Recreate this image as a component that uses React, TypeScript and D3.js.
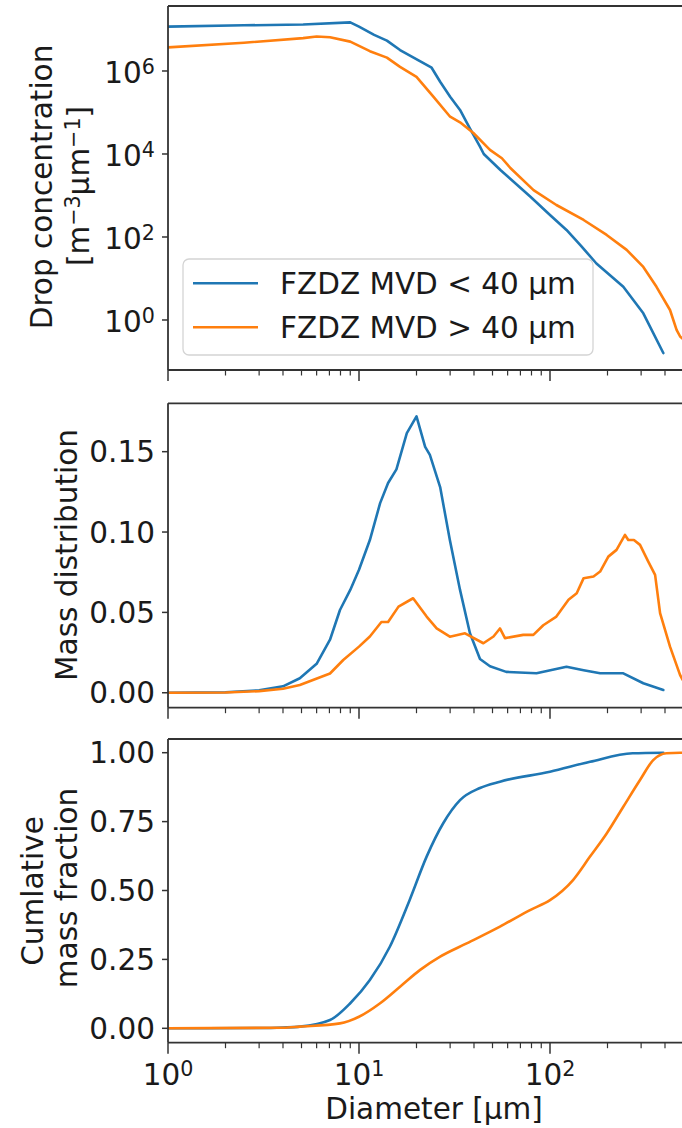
import React, { useRef, useEffect } from 'react';
import * as d3 from 'd3';

const WIDTH = 682;
const HEIGHT = 1128;
const FONT = 'DejaVu Sans, Verdana, sans-serif';
const FS = 29.5;

const SERIES = ['FZDZ MVD < 40 μm', 'FZDZ MVD > 40 μm'];
const COLORS = ['#1f77b4', '#ff7f0e'];

// Drop concentration [m^-3 um^-1]
const concDiamSmall = [1, 2.5, 5.1, 9, 10, 12, 14, 16.4, 20.5, 24, 26.6, 30, 33.8, 38, 43, 45, 55, 79, 100, 122, 145, 175, 242, 308, 392];
const concSmall = [1.17e7, 1.26e7, 1.32e7, 1.48e7, 1.17e7, 7.4e6, 5.4e6, 3.2e6, 1.8e6, 1.2e6, 5.5e5, 2.4e5, 1.15e5, 4.2e4, 1.5e4, 1.0e4, 4.1e3, 930, 340, 148, 62, 23, 6.3, 1.45, 0.16];
const concDiamLarge = [1, 2.5, 5.1, 6, 7.05, 9, 11.4, 14, 16.4, 20, 24.5, 30, 33.8, 39.7, 48.5, 56, 62, 82, 108, 150, 198, 252, 308, 361, 425, 460, 480, 495];
const concLarge = [3.7e6, 4.8e6, 6.2e6, 6.8e6, 6.5e6, 5.1e6, 3.0e6, 2.1e6, 1.26e6, 7.2e5, 2.4e5, 7.9e4, 5.8e4, 3.2e4, 1.26e4, 7.9e3, 4.6e3, 1.35e3, 590, 257, 112, 49, 19, 6.3, 1.74, 0.58, 0.4, 0.355];

// Mass distribution
const massDiamSmall = [1, 2, 3, 4, 4.9, 6, 7.05, 7.95, 9, 10, 11.4, 12.9, 14.2, 15.7, 17.8, 20, 22.2, 23.5, 26.6, 29.9, 33.8, 38.1, 43, 48.5, 59, 85, 122, 150, 183, 242, 308, 392];
const massSmall = [0, 0.0003, 0.0015, 0.004, 0.009, 0.018, 0.033, 0.0515, 0.064, 0.0765, 0.095, 0.118, 0.1305, 0.139, 0.1616, 0.172, 0.153, 0.148, 0.128, 0.095, 0.064, 0.037, 0.021, 0.0165, 0.013, 0.0121, 0.0162, 0.014, 0.0121, 0.0121, 0.0059, 0.0017];
const massDiamLarge = [1, 2, 3, 4, 4.9, 7.05, 8.27, 10, 11.4, 13.1, 14.2, 16.1, 19.2, 22.6, 25.5, 29.9, 35.9, 44.8, 50.6, 54.7, 58.1, 72.4, 81.8, 92.2, 108, 125, 138, 150, 169, 183, 202, 223, 247, 257, 275, 296, 327, 355, 377, 425, 480, 495];
const massLarge = [0, 0.0002, 0.001, 0.0025, 0.0048, 0.012, 0.0204, 0.0287, 0.035, 0.044, 0.044, 0.0536, 0.0588, 0.0474, 0.0401, 0.0349, 0.037, 0.0308, 0.035, 0.04, 0.034, 0.036, 0.036, 0.042, 0.0474, 0.0578, 0.0619, 0.0713, 0.0723, 0.0754, 0.0847, 0.0889, 0.0982, 0.095, 0.095, 0.092, 0.0816, 0.0733, 0.0495, 0.0287, 0.011, 0.008];

// Cumulative mass fraction
const cumDiamSmall = [1, 3, 4, 4.9, 7.05, 9, 11.4, 14.5, 18.4, 22.6, 27.6, 33.8, 43, 54.7, 100, 162, 271, 392];
const cumSmall = [0, 0.001, 0.003, 0.006, 0.03, 0.091, 0.175, 0.296, 0.465, 0.623, 0.744, 0.828, 0.872, 0.895, 0.931, 0.967, 0.998, 1.0];
const cumDiamLarge = [1, 4, 4.9, 7.95, 10, 12.9, 16.4, 20.9, 26.6, 36.6, 54.7, 78.6, 100, 132, 162, 198, 242, 296, 347, 406, 480, 495];
const cumLarge = [0, 0.002, 0.006, 0.018, 0.042, 0.091, 0.151, 0.212, 0.26, 0.308, 0.369, 0.429, 0.465, 0.538, 0.623, 0.707, 0.804, 0.901, 0.973, 0.998, 1.0, 1.0];

const concTicks = [1, 1e2, 1e4, 1e6];
const massTicks = [0, 0.05, 0.1, 0.15];
const cumTicks = [0, 0.25, 0.5, 0.75, 1.0];
const xMajorTicks = [1, 10, 100];

const App: React.FC = () => {
    const svgRef = useRef<SVGSVGElement | null>(null);

    useEffect(() => {
        if (!svgRef.current) return;
        const svg = d3.select(svgRef.current);
        svg.selectAll('*').remove();

        const left = 168;
        const pxPerDecade = 191;
        const xScale = d3.scaleLog()
            .domain([1, 600])
            .range([left, left + pxPerDecade * Math.log10(600)]);
        const right = xScale.range()[1];

        const panels = [
            {
                top: 6, bottom: 370,
                y: d3.scaleLog().domain([Math.pow(10, -1.205), Math.pow(10, 7.566)]).range([370, 6]),
                ticks: concTicks, logLabels: true, curve: d3.curveLinear,
                series: [[concDiamSmall, concSmall], [concDiamLarge, concLarge]],
            },
            {
                top: 403.3, bottom: 707.7,
                y: d3.scaleLinear().domain([-0.0093, 0.1801]).range([707.7, 403.3]),
                ticks: massTicks, logLabels: false, curve: d3.curveLinear,
                series: [[massDiamSmall, massSmall], [massDiamLarge, massLarge]],
            },
            {
                top: 739, bottom: 1042.7,
                y: d3.scaleLinear().domain([-0.0522, 1.0497]).range([1042.7, 739]),
                ticks: cumTicks, logLabels: false, curve: d3.curveMonotoneX,
                series: [[cumDiamSmall, cumSmall], [cumDiamLarge, cumLarge]],
            },
        ];

        const defs = svg.append('defs');

        panels.forEach((p, pi) => {
            const g = svg.append('g');
            const clipId = `clip-${pi}`;
            defs.append('clipPath').attr('id', clipId)
                .append('rect')
                .attr('x', left).attr('y', p.top)
                .attr('width', right - left).attr('height', p.bottom - p.top);

            // lines
            p.series.forEach(([xs, ys], si) => {
                const pts = xs.map((d, i) => [d, ys[i]] as [number, number]);
                const line = d3.line<[number, number]>()
                    .x(d => xScale(d[0]))
                    .y(d => (p.y as any)(d[1]))
                    .curve(p.curve);
                g.append('path')
                    .attr('d', line(pts) || '')
                    .attr('fill', 'none')
                    .attr('stroke', COLORS[si])
                    .attr('stroke-width', 2.6)
                    .attr('stroke-linejoin', 'round')
                    .attr('stroke-linecap', 'round')
                    .attr('clip-path', `url(#${clipId})`);
            });

            // spines (right spine is off the canvas)
            const spine = { stroke: '#333', width: 1.8 };
            g.append('line').attr('x1', left).attr('x2', left).attr('y1', p.top).attr('y2', p.bottom)
                .attr('stroke', spine.stroke).attr('stroke-width', spine.width);
            g.append('line').attr('x1', left).attr('x2', right).attr('y1', p.top).attr('y2', p.top)
                .attr('stroke', spine.stroke).attr('stroke-width', spine.width);
            g.append('line').attr('x1', left).attr('x2', right).attr('y1', p.bottom).attr('y2', p.bottom)
                .attr('stroke', spine.stroke).attr('stroke-width', spine.width);
            g.append('line').attr('x1', right).attr('x2', right).attr('y1', p.top).attr('y2', p.bottom)
                .attr('stroke', spine.stroke).attr('stroke-width', spine.width);

            // y ticks
            p.ticks.forEach(t => {
                const ty = (p.y as any)(t);
                g.append('line').attr('x1', left - 6).attr('x2', left).attr('y1', ty).attr('y2', ty)
                    .attr('stroke', '#333').attr('stroke-width', 1.5);
                if (p.logLabels) {
                    const txt = g.append('text')
                        .attr('x', left - 13).attr('y', ty + 12)
                        .attr('text-anchor', 'end')
                        .attr('font-family', FONT).attr('font-size', FS).attr('fill', '#1a1a1a');
                    txt.append('tspan').text('10');
                    txt.append('tspan').attr('dy', -9).attr('font-size', FS * 0.7).text(String(Math.round(Math.log10(t))));
                } else {
                    g.append('text')
                        .attr('x', left - 13).attr('y', ty + 10.5)
                        .attr('text-anchor', 'end')
                        .attr('font-family', FONT).attr('font-size', FS).attr('fill', '#1a1a1a')
                        .text(d3.format('.2f')(t));
                }
            });

            // x ticks
            xScale.ticks().forEach(t => {
                const major = xMajorTicks.includes(t);
                const tx = xScale(t);
                g.append('line').attr('x1', tx).attr('x2', tx)
                    .attr('y1', p.bottom).attr('y2', p.bottom + (major ? 11 : 5.5))
                    .attr('stroke', '#333').attr('stroke-width', major ? 1.5 : 1.2);
            });

            if (pi === 2) {
                xMajorTicks.forEach(t => {
                    const txt = g.append('text')
                        .attr('x', xScale(t)).attr('y', 1085)
                        .attr('text-anchor', 'middle')
                        .attr('font-family', FONT).attr('font-size', FS).attr('fill', '#1a1a1a');
                    txt.append('tspan').text('10');
                    txt.append('tspan').attr('dy', -9).attr('font-size', FS * 0.7).text(String(Math.round(Math.log10(t))));
                });
            }
        });

        // y labels
        const ylabel = (x: number, cy: number) => svg.append('text')
            .attr('transform', `translate(${x},${cy}) rotate(-90)`)
            .attr('text-anchor', 'middle')
            .attr('font-family', FONT).attr('font-size', FS).attr('fill', '#1a1a1a');

        ylabel(52, 187).text('Drop concentration');
        const unit = ylabel(89, 186);
        unit.append('tspan').text('[m');
        unit.append('tspan').attr('dy', -9).attr('font-size', FS * 0.7).text('−3');
        unit.append('tspan').attr('dy', 9).text('μm');
        unit.append('tspan').attr('dy', -9).attr('font-size', FS * 0.7).text('−1');
        unit.append('tspan').attr('dy', 9).text(']');

        ylabel(77, 555).text('Mass distribution');
        ylabel(43, 891).text('Cumlative');
        ylabel(77, 888).text('mass fraction');

        // x label
        svg.append('text')
            .attr('x', 434).attr('y', 1119)
            .attr('text-anchor', 'middle')
            .attr('font-family', FONT).attr('font-size', FS).attr('fill', '#1a1a1a')
            .text('Diameter [μm]');

        // legend
        const legend = svg.append('g');
        legend.append('rect')
            .attr('x', 183).attr('y', 259).attr('width', 410).attr('height', 96)
            .attr('rx', 6).attr('ry', 6)
            .attr('fill', 'white').attr('fill-opacity', 0.8)
            .attr('stroke', '#d4d4d4').attr('stroke-width', 1.3);
        SERIES.forEach((name, i) => {
            const ly = 283.3 + i * 44;
            legend.append('line')
                .attr('x1', 193).attr('x2', 258).attr('y1', ly).attr('y2', ly)
                .attr('stroke', COLORS[i]).attr('stroke-width', 2.6);
            legend.append('text')
                .attr('x', 280).attr('y', ly + 10.5)
                .attr('font-family', FONT).attr('font-size', FS).attr('fill', '#1a1a1a')
                .text(name);
        });
    }, []);

    return (
        <svg
            ref={svgRef}
            width={WIDTH}
            height={HEIGHT}
            style={{ position: 'absolute', left: 0, top: 0, background: 'white' }}
        />
    );
};

export default App;
